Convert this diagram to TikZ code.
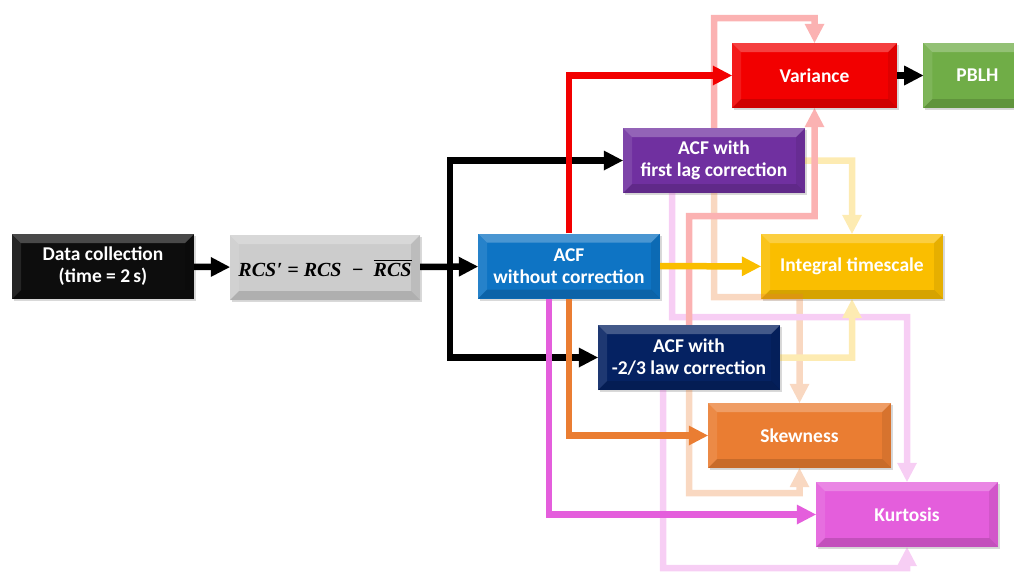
\documentclass[tikz,border=0pt]{standalone}
\usepackage{fontspec}
\setmainfont{Carlito}
\newfontfamily\rcsfont{Liberation Serif}
\usepackage{amsmath,amssymb}
\usepackage{tikz}
\usetikzlibrary{arrows.meta,positioning,shadows}
\definecolor{acfblue}{RGB}{14, 116, 196}
\definecolor{lagpurple}{RGB}{112, 48, 160}
\definecolor{lawnavy}{RGB}{5, 34, 98}
\definecolor{varred}{RGB}{242, 0, 0}
\definecolor{pblhgreen}{RGB}{112, 173, 71}
\definecolor{itgold}{RGB}{250, 190, 0}
\definecolor{skeworange}{RGB}{234, 125, 50}
\definecolor{kurtpink}{RGB}{228, 94, 220}
\definecolor{rcsgray}{RGB}{204, 204, 204}
\newcommand{\rcsterm}{\rcsfont\bfseries\itshape RCS}
\newcommand{\rcsformula}{{\rcsterm\kern0.5pt′ = \rcsterm\ \ − \ $\overline{\hbox{\rcsterm}}$}}

\begin{document}
\begin{tikzpicture}[
    x=1pt, y=-1pt,
    bevel/.style={path picture={
        \fill[white, opacity=0.25] (path picture bounding box.north west) -- (path picture bounding box.north east) -- ([shift={(-9pt,-9pt)}]path picture bounding box.north east) -- ([shift={(9pt,-9pt)}]path picture bounding box.north west) -- cycle;
        \fill[white, opacity=0.10] (path picture bounding box.north west) -- ([shift={(9pt,-9pt)}]path picture bounding box.north west) -- ([shift={(9pt,9pt)}]path picture bounding box.south west) -- (path picture bounding box.south west) -- cycle;
        \fill[black, opacity=0.08] (path picture bounding box.north east) -- ([shift={(-9pt,-9pt)}]path picture bounding box.north east) -- ([shift={(-9pt,9pt)}]path picture bounding box.south east) -- (path picture bounding box.south east) -- cycle;
        \fill[black, opacity=0.14] (path picture bounding box.south west) -- ([shift={(9pt,9pt)}]path picture bounding box.south west) -- ([shift={(-9pt,9pt)}]path picture bounding box.south east) -- (path picture bounding box.south east) -- cycle;
    }},
    box/.style={rectangle, fill=#1, bevel, minimum width=182pt, minimum height=65pt, inner sep=0pt, align=center, text=white, font=\fontsize{19.5}{22}\selectfont\bfseries, drop shadow={opacity=0.3, shadow xshift=1.5pt, shadow yshift=-2pt}},
    arrow/.style={-{Triangle[length=19pt, width=20pt, line width=0pt]}, line width=6.5pt, draw=#1},
    pale/.style={arrow=#1}
]
    \useasboundingbox (0,0) rectangle (1014,571);

    % Nodes
    \node [box=black!95] (data) at (103,266.5) {Data collection\\(time = 2\,s)};
    \node [box=rcsgray, text=black, minimum width=190pt, font=\fontsize{20}{22}\selectfont] (rcs) at (325,267.5) {\rcsformula};
    \node [box=acfblue] (nolag) at (569,266) {ACF\\without correction};
    \node [box=lagpurple] (firstlag) at (714,160.5) {ACF with\\first lag correction};
    \node [box=lawnavy] (lawcorr) at (689,357.5) {ACF with\\-2/3 law correction};
    \node [box=varred, minimum width=165pt] (variance) at (814.5,75.5) {Variance};
    \node [box=pblhgreen, minimum width=108pt, right=26pt of variance] (pblh) {PBLH};
    \node [box=itgold] (integral) at (852,266.5) {Integral\ timescale};
    \node [box=skeworange, minimum width=183pt] (skew) at (799.5,435.5) {Skewness};
    \node [box=kurtpink] (kurt) at (907,514.5) {Kurtosis};

    % Bus lines
    \coordinate (busx) at (450,0);
    \coordinate (topbus) at (0,18);
    \coordinate (varbus) at (0,216);
    \coordinate (skewbus) at (0,297);
    \coordinate (kurtbus) at (0,317);
    \coordinate (skewbus2) at (0,493);
    \coordinate (kurtbus2) at (0,568);

    % Paths from the first lag and -2/3 law boxes
    \begin{scope}[transparency group, opacity=0.3]
    \draw [pale=varred] (firstlag.north) -- (firstlag.north |- topbus) -| (variance.north);
    \draw [pale=itgold] (firstlag.east) -| (integral.north);
    \draw [pale=skeworange] (firstlag.south) -- (firstlag.south |- skewbus) -| (skew.north);
    \draw [pale=kurtpink] ([xshift=-42pt]firstlag.south) -- ([xshift=-42pt]firstlag.south |- kurtbus) -| (kurt.north);
    \draw [pale=varred] (lawcorr.north) -- (lawcorr.north |- varbus) -| (variance.south);
    \draw [pale=itgold] (lawcorr.east) -| (integral.south);
    \draw [pale=skeworange] (lawcorr.south) -- (lawcorr.south |- skewbus2) -| (skew.south);
    \draw [pale=kurtpink] ([xshift=-26pt]lawcorr.south) -- ([xshift=-26pt]lawcorr.south |- kurtbus2) -| (kurt.south);
    \end{scope}

    % Paths
    \draw [arrow=black] (data) -- (rcs);
    \draw [arrow=black] (rcs) -- (nolag);
    \draw [arrow=black] (busx |- rcs.east) |- (firstlag.west);
    \draw [arrow=black] (busx |- rcs.east) |- (lawcorr.west);
    \draw [arrow=varred] (nolag.north) |- (variance.west);
    \draw [arrow=skeworange] (nolag.south) |- (skew.west);
    \draw [arrow=kurtpink] ([xshift=-20pt]nolag.south) |- (kurt.west);
    \draw [arrow=itgold] (nolag) -- (integral);
    \draw [arrow=black] (variance) -- (pblh);
\end{tikzpicture}
\end{document}
